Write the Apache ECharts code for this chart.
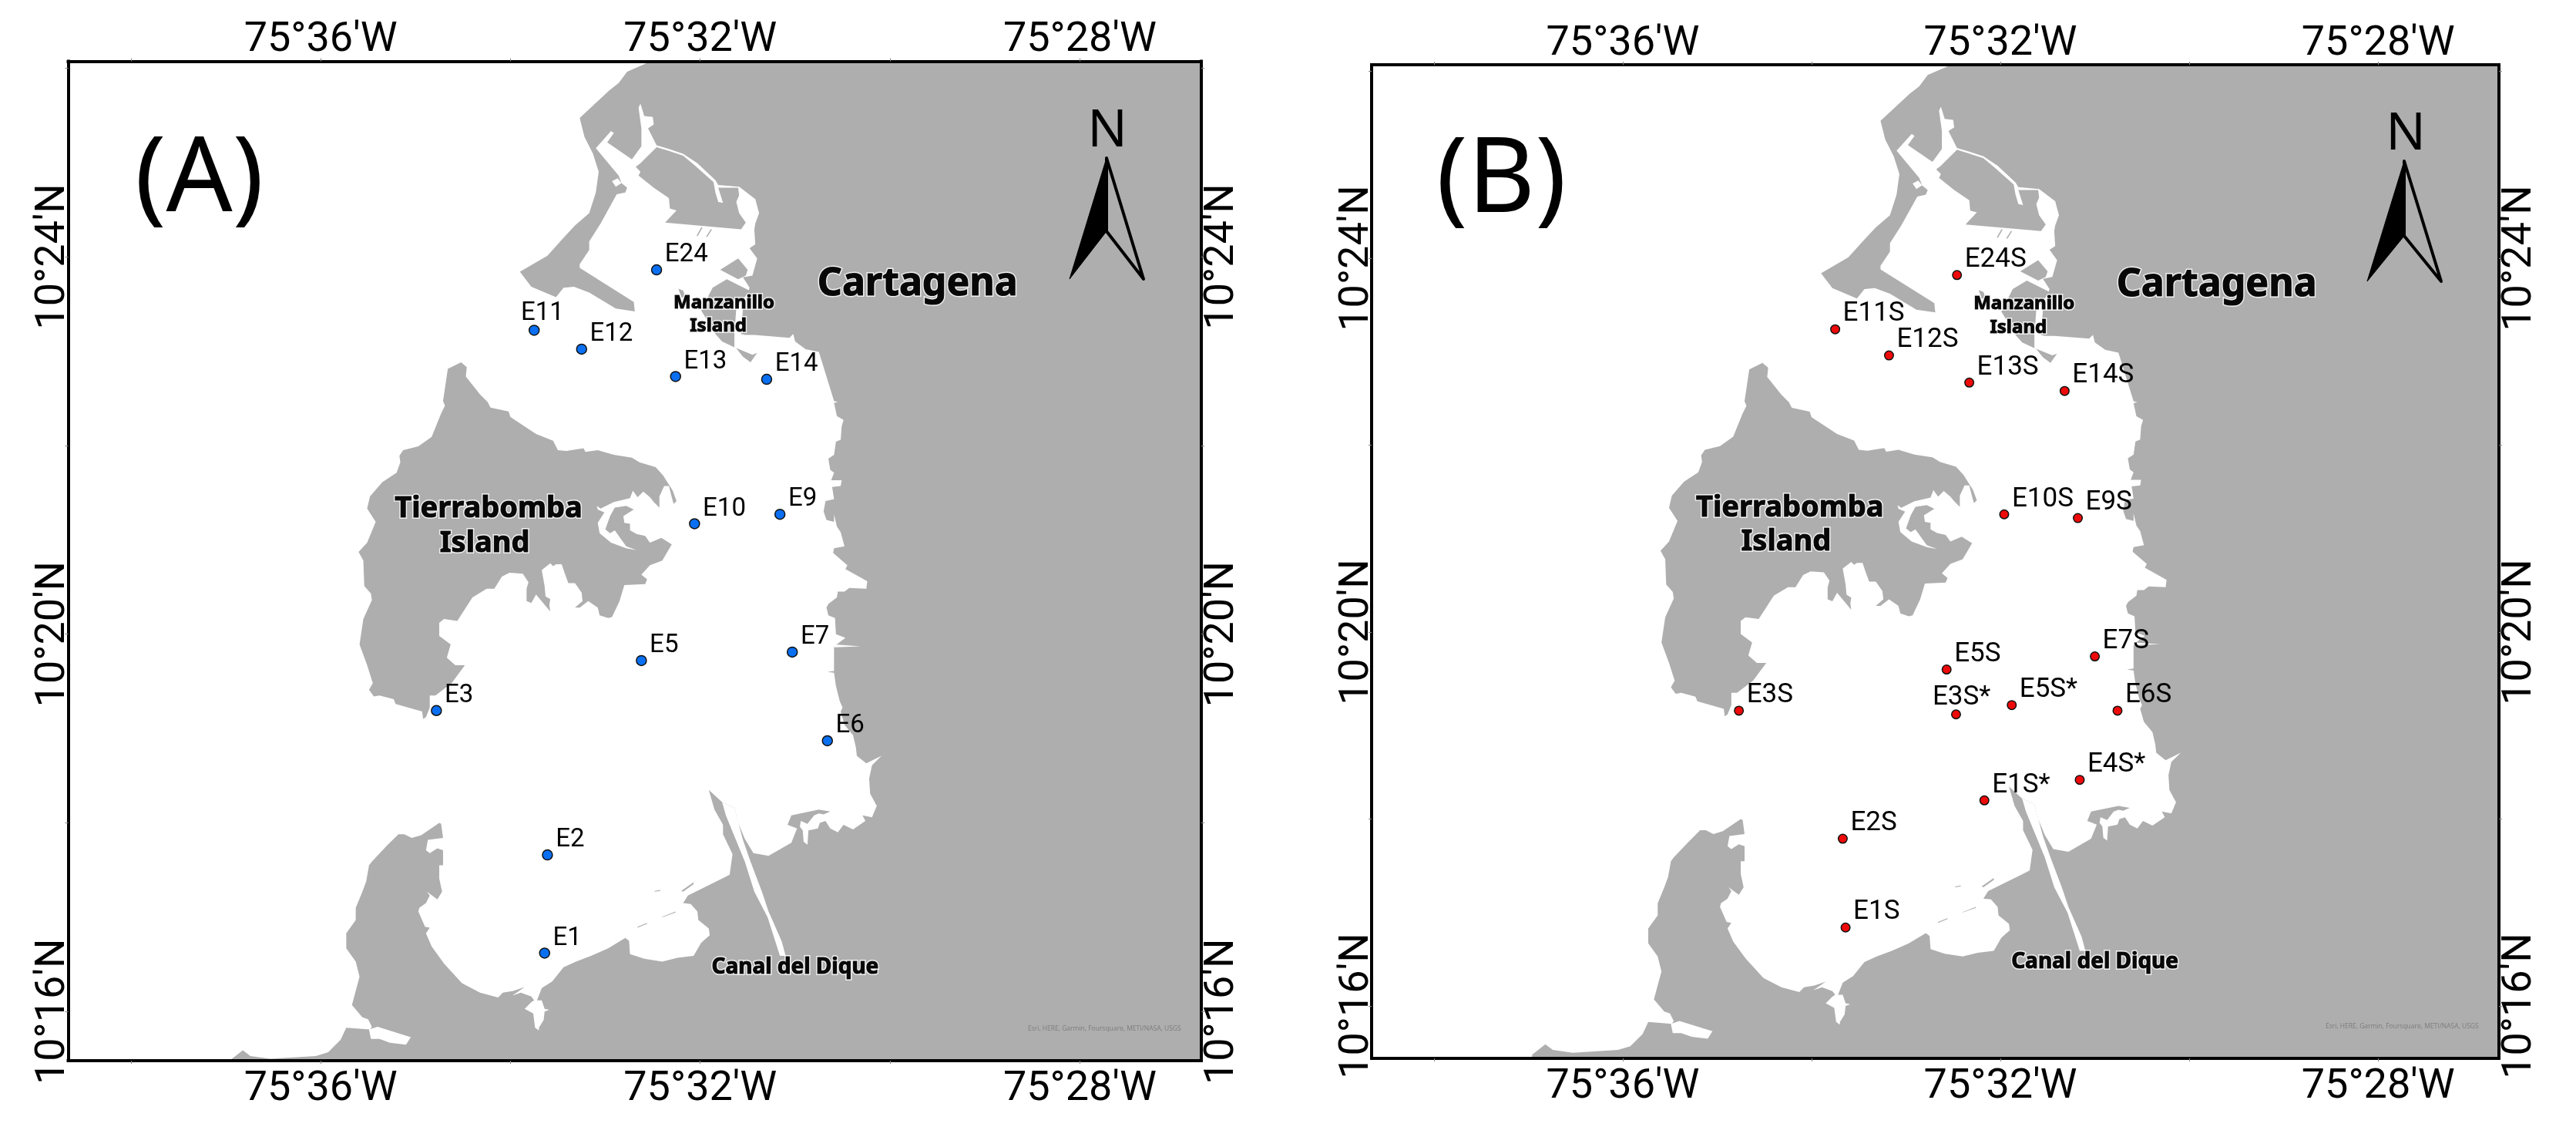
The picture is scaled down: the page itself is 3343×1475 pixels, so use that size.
<!DOCTYPE html>
<html>
<head>
<meta charset="utf-8">
<style>html,body{margin:0;padding:0;background:#fff}#c{width:3343px;height:1475px}</style>
<script src="https://cdn.jsdelivr.net/npm/echarts@6/dist/echarts.min.js"></script>
</head>
<body>
<div id="c"></div>
<script>
// All map values are in arc minutes: longitude = minutes west of 75° (negative), latitude = minutes north of 10°.
const lonTicks = [-38,-36,-34,-32,-30,-28];
const lonLabelTicks = [-36,-32,-28];
const latTicks = [26,24,22,20,18,16];
const latLabelTicks = [24,20,16];

const stationsA = ['E24','E11','E12','E13','E14','E10','E9','E5','E7','E3','E6','E2','E1'];
const lonA = [-32.46,-33.75,-33.25,-32.26,-31.30,-32.06,-31.16,-32.62,-31.03,-34.78,-30.66,-33.61,-33.64];
const latA = [23.86,23.22,23.02,22.73,22.70,21.17,21.27,19.72,19.81,19.19,18.87,17.66,16.62];

const stationsB = ['E24S','E11S','E12S','E13S','E14S','E10S','E9S','E5S','E7S','E3S','E3S*','E5S*','E6S','E4S*','E1S*','E2S','E1S'];
const lonB = [-32.46,-33.75,-33.18,-32.33,-31.32,-31.96,-31.18,-32.57,-31.00,-34.77,-32.47,-31.88,-30.76,-31.16,-32.17,-33.67,-33.64];
const latB = [23.82,23.24,22.96,22.67,22.58,21.26,21.22,19.60,19.74,19.16,19.12,19.22,19.16,18.42,18.20,17.79,16.84];

const placeNames = ['Cartagena','Tierrabomba','Island','Manzanillo','Island','Canal del Dique'];
const placeLon = [-29.71,-34.23,-34.27,-31.75,-31.81,-31.00];
const placeLat = [23.71,21.33,20.96,23.51,23.26,16.47];

const mainlandCoast = [[-32.52,26.2],[-32.52,26.07],[-32.77,25.96],[-32.86,25.84],[-32.96,25.76],[-33.27,25.47],[-33.22,25.27],[-33.13,25.09],[-33.07,24.90],[-33.10,24.68],[-33.17,24.46],[-33.32,24.33],[-33.45,24.19],[-33.61,24.01],[-33.90,23.84],[-33.78,23.68],[-33.52,23.57],[-33.44,23.67],[-33.33,23.68],[-33.17,23.62],[-32.89,23.45],[-32.69,23.42],[-32.70,23.52],[-33.27,23.88],[-33.27,23.92],[-33.17,24.07],[-33.17,24.16],[-33.05,24.35],[-32.88,24.66],[-32.79,24.68],[-32.77,24.73],[-32.83,24.78],[-32.86,24.86],[-33.10,25.15],[-32.94,25.33],[-32.91,25.31],[-32.98,25.21],[-32.72,25.03],[-32.62,25.17],[-32.62,25.36],[-32.65,25.58],[-32.63,25.62],[-32.59,25.49],[-32.50,25.48],[-32.49,25.40],[-32.55,25.36],[-32.46,25.18],[-32.33,25.14],[-32.18,25.09],[-32.03,24.99],[-31.84,24.81],[-31.81,24.76],[-31.59,24.74],[-31.42,24.61],[-31.38,24.46],[-31.42,24.35],[-31.43,24.29],[-31.42,24.13],[-31.48,24.09],[-31.40,23.98],[-31.45,23.80],[-31.55,23.78],[-31.48,23.67],[-31.55,23.45],[-31.57,23.18],[-31.53,23.17],[-31.43,23.17],[-31.06,23.14],[-31.02,23.18],[-31.00,23.10],[-30.89,23.02],[-30.75,22.99],[-30.59,22.47],[-30.55,22.46],[-30.59,22.45],[-30.56,22.31],[-30.49,22.27],[-30.51,22.20],[-30.52,22.06],[-30.57,22.04],[-30.59,21.90],[-30.65,21.86],[-30.63,21.74],[-30.59,21.71],[-30.62,21.63],[-30.51,21.63],[-30.52,21.57],[-30.61,21.56],[-30.59,21.43],[-30.68,21.41],[-30.70,21.30],[-30.67,21.21],[-30.59,21.19],[-30.59,21.27],[-30.56,21.14],[-30.52,21.08],[-30.48,20.93],[-30.59,20.91],[-30.60,20.86],[-30.45,20.73],[-30.47,20.69],[-30.24,20.56],[-30.25,20.48],[-30.43,20.49],[-30.48,20.45],[-30.55,20.45],[-30.56,20.39],[-30.65,20.32],[-30.67,20.28],[-30.65,20.20],[-30.58,20.17],[-30.57,20.00],[-30.47,19.96],[-30.59,19.87],[-30.59,19.61],[-30.66,19.60],[-30.59,19.59],[-30.57,19.45],[-30.53,19.29],[-30.50,19.22],[-30.52,19.18],[-30.48,19.04],[-30.39,18.93],[-30.36,18.80],[-30.35,18.71],[-30.25,18.63],[-30.09,18.71],[-30.19,18.61],[-30.22,18.47],[-30.21,18.31],[-30.14,18.18],[-30.19,18.06],[-30.29,18.08],[-30.26,18.02],[-30.39,17.93],[-30.49,17.98],[-30.55,17.90],[-30.63,17.94],[-30.68,18.02],[-30.74,18.00],[-30.76,17.94],[-30.86,17.92],[-30.87,17.77],[-30.91,17.80],[-30.92,17.92],[-30.95,17.96],[-30.94,18.02],[-30.87,17.99],[-30.80,18.08],[-30.75,18.10],[-30.70,18.09],[-30.63,18.12],[-30.75,18.14],[-31.04,18.08],[-31.08,17.98],[-30.98,17.94],[-31.04,17.79],[-31.28,17.65],[-31.44,17.68],[-31.53,17.83],[-31.60,18.00],[-31.64,18.16],[-31.77,18.22],[-31.91,18.35],[-31.85,18.14],[-31.76,17.98],[-31.76,17.88],[-31.66,17.67],[-31.69,17.45],[-31.75,17.42],[-32.13,17.23],[-32.18,17.15],[-32.10,17.14],[-32.03,17.06],[-32.02,16.97],[-31.91,16.88],[-31.90,16.81],[-31.99,16.73],[-32.07,16.59],[-32.24,16.57],[-32.40,16.53],[-32.59,16.56],[-32.74,16.61],[-32.75,16.75],[-32.79,16.78],[-32.97,16.67],[-33.15,16.59],[-33.31,16.53],[-33.44,16.47],[-33.56,16.32],[-33.67,16.25],[-33.72,16.12],[-33.67,16.12],[-33.64,16.03],[-33.59,16.02],[-33.64,16.00],[-33.65,15.91],[-33.70,15.83],[-33.70,15.80],[-33.74,15.83],[-33.76,15.98],[-33.85,16.03],[-33.78,16.10],[-33.75,16.12],[-33.78,16.16],[-33.89,16.20],[-33.98,16.17],[-33.85,16.26],[-33.97,16.22],[-34.08,16.20],[-34.13,16.15],[-34.32,16.20],[-34.51,16.30],[-34.70,16.51],[-34.83,16.69],[-34.89,16.83],[-34.85,16.89],[-34.90,16.90],[-34.97,17.06],[-34.96,17.10],[-34.89,17.15],[-34.85,17.23],[-34.88,17.27],[-34.77,17.19],[-34.72,17.27],[-34.75,17.41],[-34.75,17.55],[-34.71,17.55],[-34.71,17.71],[-34.77,17.73],[-34.85,17.68],[-34.89,17.71],[-34.87,17.82],[-34.71,17.84],[-34.73,17.99],[-34.75,18.00],[-34.94,17.87],[-35.04,17.84],[-35.12,17.88],[-35.18,17.88],[-35.30,17.76],[-35.46,17.59],[-35.49,17.55],[-35.52,17.38],[-35.56,17.27],[-35.63,17.10],[-35.63,16.97],[-35.73,16.83],[-35.73,16.67],[-35.63,16.53],[-35.59,16.37],[-35.67,16.07],[-35.56,15.94],[-35.50,15.92],[-35.46,15.84],[-35.48,15.81],[-35.73,15.83],[-35.79,15.70],[-35.92,15.57],[-36.05,15.53],[-36.53,15.50],[-36.74,15.53],[-36.82,15.59],[-36.96,15.48],[-36.96,15.3],[-26.5,15.3],[-26.5,26.2]];

const waterCuts = [
 [[-35.40,15.84],[-35.05,15.73],[-35.10,15.65],[-35.27,15.67],[-35.38,15.71],[-35.47,15.71],[-35.49,15.81]],
 [[-31.64,18.16],[-31.55,17.82],[-31.47,17.59],[-31.35,17.27],[-31.28,17.06],[-31.24,16.97],[-31.14,16.74],[-31.10,16.59],[-31.16,16.59],[-31.29,17.00],[-31.43,17.27],[-31.53,17.59],[-31.73,18.08],[-31.77,18.22]],
 [[-32.93,24.80],[-32.87,24.83],[-32.83,24.78],[-32.89,24.74]],
 [[-30.59,19.89],[-30.31,19.87],[-30.59,19.86]]
];

const islands = [
 [[-34.52,22.88],[-34.46,22.83],[-34.47,22.73],[-34.32,22.54],[-34.24,22.46],[-34.21,22.40],[-34.02,22.36],[-34.00,22.30],[-33.73,22.12],[-33.55,22.05],[-33.50,21.95],[-33.41,21.94],[-33.23,21.97],[-33.21,21.93],[-33.08,21.95],[-32.91,21.90],[-32.72,21.87],[-32.64,21.82],[-32.47,21.77],[-32.39,21.68],[-32.29,21.52],[-32.25,21.41],[-32.28,21.38],[-32.30,21.45],[-32.33,21.57],[-32.38,21.57],[-32.43,21.46],[-32.43,21.34],[-32.49,21.40],[-32.53,21.45],[-32.60,21.51],[-32.66,21.45],[-32.71,21.52],[-32.74,21.44],[-32.91,21.40],[-33.05,21.33],[-33.09,21.36],[-33.08,21.32],[-33.01,21.29],[-33.08,21.18],[-33.06,21.07],[-32.94,20.97],[-32.78,20.91],[-32.67,20.89],[-32.78,20.93],[-32.83,21.00],[-32.90,21.10],[-32.95,21.07],[-33.00,21.11],[-32.95,21.25],[-32.90,21.34],[-32.78,21.36],[-32.70,21.32],[-32.81,21.25],[-32.80,21.18],[-32.74,21.17],[-32.74,21.10],[-32.67,21.06],[-32.58,21.04],[-32.53,20.97],[-32.41,21.02],[-32.30,20.95],[-32.40,20.78],[-32.53,20.73],[-32.62,20.63],[-32.56,20.58],[-32.58,20.53],[-32.80,20.52],[-32.85,20.35],[-32.93,20.18],[-32.97,20.17],[-33.06,20.20],[-33.08,20.28],[-33.18,20.35],[-33.27,20.28],[-33.32,20.28],[-33.24,20.35],[-33.25,20.44],[-33.32,20.54],[-33.39,20.54],[-33.43,20.65],[-33.46,20.74],[-33.52,20.74],[-33.55,20.72],[-33.58,20.75],[-33.67,20.68],[-33.64,20.51],[-33.63,20.40],[-33.58,20.37],[-33.59,20.31],[-33.58,20.24],[-33.73,20.42],[-33.78,20.33],[-33.83,20.35],[-33.83,20.48],[-33.81,20.55],[-33.87,20.64],[-34.01,20.65],[-34.09,20.61],[-34.17,20.48],[-34.25,20.48],[-34.40,20.39],[-34.56,20.14],[-34.70,20.16],[-34.75,20.12],[-34.75,19.98],[-34.63,19.89],[-34.67,19.75],[-34.58,19.67],[-34.48,19.67],[-34.62,19.48],[-34.79,19.35],[-34.85,19.35],[-34.85,19.22],[-34.89,19.12],[-34.92,19.10],[-34.93,19.18],[-35.21,19.26],[-35.23,19.31],[-35.38,19.35],[-35.44,19.34],[-35.49,19.41],[-35.45,19.48],[-35.51,19.67],[-35.59,19.89],[-35.55,20.16],[-35.46,20.36],[-35.47,20.43],[-35.54,20.51],[-35.55,20.78],[-35.60,20.87],[-35.51,20.97],[-35.42,21.19],[-35.51,21.33],[-35.48,21.46],[-35.35,21.61],[-35.20,21.71],[-35.16,21.82],[-35.17,21.89],[-35.13,21.95],[-34.97,21.99],[-34.83,22.09],[-34.73,22.34],[-34.69,22.42],[-34.71,22.47],[-34.66,22.81]],
 [[-32.63,24.99],[-32.46,25.16],[-32.33,25.12],[-32.18,25.07],[-32.06,24.97],[-31.86,24.79],[-31.84,24.68],[-31.81,24.58],[-31.76,24.57],[-31.81,24.73],[-31.60,24.73],[-31.59,24.65],[-31.62,24.58],[-31.59,24.46],[-31.52,24.36],[-31.57,24.29],[-32.37,24.36],[-32.25,24.49],[-32.32,24.51],[-32.33,24.62],[-32.49,24.73],[-32.65,24.86],[-32.63,24.90],[-32.68,24.95]],
 [[-31.79,23.86],[-31.60,23.98],[-31.50,23.86],[-31.52,23.80],[-31.60,23.76]],
 [[-31.87,23.67],[-31.72,23.76],[-31.48,23.64],[-31.62,23.45],[-31.64,23.18],[-31.64,23.04],[-31.45,22.96],[-31.40,22.98],[-31.47,22.88],[-31.55,22.94],[-31.62,23.03],[-31.77,23.10],[-31.84,23.18],[-31.99,23.43]],
 [[-32.23,23.66],[-32.18,23.64],[-32.15,23.56],[-32.20,23.57]],
 [[-31.99,24.31],[-31.975,24.31],[-32.025,24.22],[-32.04,24.22]],
 [[-31.89,24.29],[-31.875,24.29],[-31.925,24.21],[-31.94,24.21]],
 [[-32.20,17.28],[-32.07,17.37],[-32.07,17.35],[-32.18,17.27]],
 [[-32.48,17.28],[-32.42,17.29],[-32.42,17.28],[-32.48,17.27]],
 [[-32.40,17.005],[-32.26,17.06],[-32.26,17.05],[-32.40,17.00]],
 [[-32.66,16.90],[-32.56,16.94],[-32.56,16.93],[-32.66,16.89]]
];

const LAND = '#aeaeae', TICK_FONT = 'Roboto', TEXT_FONT = 'Roboto';
const placeFontSizes = [50,38,38,24,24,28];
const panels = [
 {tag:'(A)', names:stationsA, lon:lonA, lat:latA, color:'#0a6ff0', size:13, labelSize:33, grid:{left:88.5,top:79.5,width:1470.5,height:1296.5}, latMin:15.48, labelOff:{E11:[-24.5,-22]}, offDefault:[3.5,-19], tagPos:[175,168], attr:[1334,1330], n:{x:1437,y:171,tip:[1436,205],l:[1388,362],r:[1484,362],notch:[1436,300]}},
 {tag:'(B)', names:stationsB, lon:lonB, lat:latB, color:'#ee0a0a', size:11.5, labelSize:35, grid:{left:1780,top:84,width:1463,height:1289}, latMin:15.44, labelOff:{'E3S*':[-37,-22]}, offDefault:[3.5,-19.5], tagPos:[1864,169], attr:[3018,1327], n:{x:3122,y:175,tip:[3120,209],l:[3072,365],r:[3168,365],notch:[3120,306]}}
];

const polySeries = (list, color, xi, yi, z) => ({
  type:'custom', xAxisIndex:xi, yAxisIndex:yi, clip:true, silent:true, z,
  data:list.map((_,i)=>[i]),
  encode:{x:-1,y:-1},
  renderItem:(p,api)=>({type:'polygon', shape:{points:list[api.value(0)].map(c=>api.coord(c))}, style:{fill:color}})
});
const placeSeries = (xi, yi, z, border, width) => ({
  type:'scatter',xAxisIndex:xi,yAxisIndex:yi,z,silent:true,symbolSize:0,
  data:placeNames.map((n,i)=>({name:n,value:[placeLon[i],placeLat[i]],label:{fontSize:placeFontSizes[i]}})),
  label:{show:true,position:'inside',formatter:'{b}',fontFamily:'Noto Sans',fontWeight:'bold',color:'#000',textBorderColor:border,textBorderWidth:width}
});

const option = {animation:false, backgroundColor:'#fff', grid:[], xAxis:[], yAxis:[], series:[], graphic:[]};
panels.forEach((P,k)=>{
  option.grid.push(Object.assign({show:false},P.grid));
  const lonAxis=(position,margin)=>({type:'value',gridIndex:k,position,min:-38.66,max:-26.72,z:10,splitLine:{show:false},
    axisLine:{show:true,onZero:false,lineStyle:{color:'#000',width:4,cap:'square'}},
    axisTick:{show:true,length:4,lineStyle:{color:'#888',width:1},customValues:lonTicks},
    axisLabel:{show:true,margin,customValues:lonLabelTicks,fontFamily:TICK_FONT,fontSize:54,color:'#000',formatter:v=>`75°${-v}'W`}});
  const latAxis=(position,margin)=>({type:'value',gridIndex:k,position,min:P.latMin,max:26.07,z:10,splitLine:{show:false},
    axisLine:{show:true,onZero:false,lineStyle:{color:'#000',width:4,cap:'square'}},
    axisTick:{show:true,length:4,lineStyle:{color:'#888',width:1},customValues:latTicks},
    axisLabel:{show:true,rotate:90,margin,customValues:latLabelTicks,fontFamily:TICK_FONT,fontSize:54,color:'#000',formatter:v=>`10°${v}'N`}});
  const xi=option.xAxis.length, yi=option.yAxis.length;
  option.xAxis.push(lonAxis('bottom',10),lonAxis('top',0));
  option.yAxis.push(latAxis('left',-8),latAxis('right',0));
  option.series.push(polySeries([mainlandCoast],LAND,xi,yi,2));
  option.series.push(polySeries(waterCuts,'#fff',xi,yi,3));
  option.series.push(polySeries(islands,LAND,xi,yi,4));
  option.series.push(placeSeries(xi,yi,5,'#fff',4));
  option.series.push(placeSeries(xi,yi,6,'#000',1.2));
  option.series.push({type:'scatter',xAxisIndex:xi,yAxisIndex:yi,z:7,silent:true,symbol:'circle',symbolSize:P.size,
    itemStyle:{color:P.color,borderColor:'#111',borderWidth:1.5,opacity:1},
    data:P.names.map((n,i)=>({name:n,value:[P.lon[i],P.lat[i]],label:{offset:P.labelOff[n]||P.offDefault}})),
    label:{show:true,position:'right',distance:0,formatter:'{b}',fontFamily:TEXT_FONT,fontSize:P.labelSize,color:'#000'}});
  const N=P.n;
  option.graphic.push(
    {type:'text',z:20,left:P.tagPos[0],top:P.tagPos[1],style:{text:P.tag,font:'135px "Noto Sans"',fill:'#000'}},
    {type:'text',z:20,x:N.x,y:N.y,style:{text:'N',font:'68px "Noto Sans"',fill:'#000',align:'center',verticalAlign:'middle'}},
    {type:'polygon',z:20,shape:{points:[N.tip,N.l,N.notch]},style:{fill:'#000',stroke:'#000',lineWidth:1,lineJoin:'round'}},
    {type:'polygon',z:20,shape:{points:[N.tip,N.r,N.notch]},style:{fill:'none',stroke:'#000',lineWidth:4,lineJoin:'round'}},
    {type:'text',z:20,left:P.attr[0],top:P.attr[1],style:{text:'Esri, HERE, Garmin, Foursquare, METI/NASA, USGS',font:'8.5px "Open Sans"',fill:'#7d7d7d'}}
  );
});
const chart=echarts.init(document.getElementById('c'),null,{renderer:'canvas'});
chart.setOption(option);
</script>
</body>
</html>
